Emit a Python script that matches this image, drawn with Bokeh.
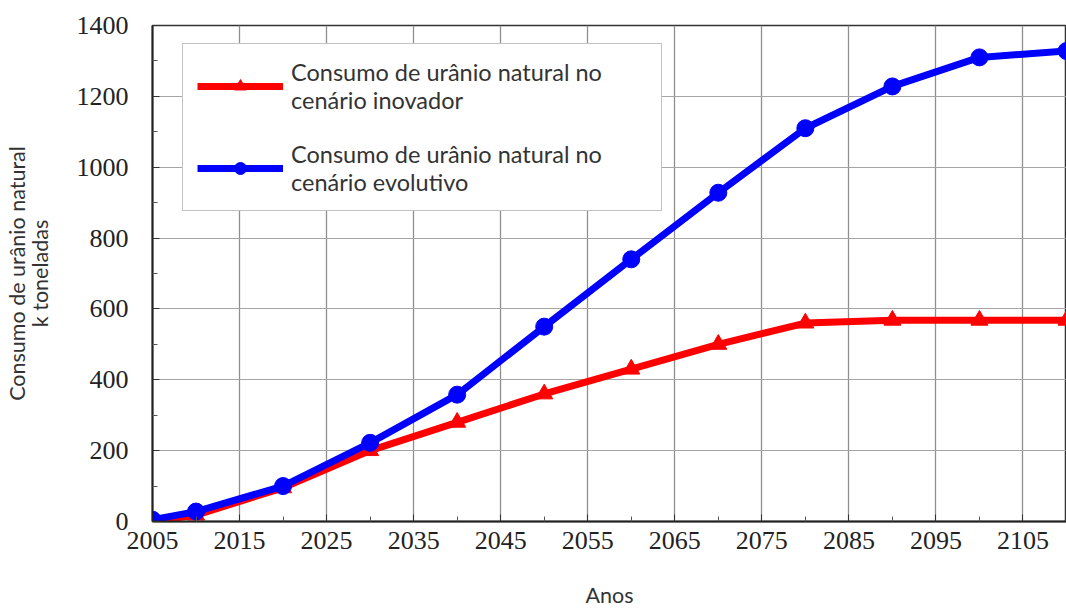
from bokeh.plotting import figure
from bokeh.models import Range1d, Legend, LegendItem, FixedTicker
from bokeh.embed import file_html
from bokeh.resources import INLINE

years = [2005, 2010, 2020, 2030, 2040, 2050, 2060, 2070, 2080, 2090, 2100, 2110]
inovador = [0, 18, 95, 200, 280, 360, 430, 500, 560, 568, 568, 568]
evolutivo = [5, 28, 100, 222, 358, 550, 740, 928, 1110, 1228, 1310, 1328]
x_ticks = [2005, 2015, 2025, 2035, 2045, 2055, 2065, 2075, 2085, 2095, 2105]
y_ticks = [0, 200, 400, 600, 800, 1000, 1200, 1400]
label_inovador = "Consumo de urânio natural no\ncenário inovador"
label_evolutivo = "Consumo de urânio natural no\ncenário evolutivo"
x_title = "Anos"
y_title = "Consumo de urânio natural\nk toneladas"

SANS = "Lato"
SERIF = "Liberation Serif"

p = figure(width=1066, height=613, output_backend="svg", toolbar_location=None,
           x_range=Range1d(2005, 2110), y_range=Range1d(0, 1400),
           min_border_left=152, min_border_top=25, min_border_right=0,
           min_border_bottom=92)

p.outline_line_color = "#333333"
p.outline_line_width = 1.5
p.background_fill_color = "white"
p.border_fill_color = "white"

p.xgrid.ticker = FixedTicker(ticks=x_ticks)
p.ygrid.ticker = FixedTicker(ticks=y_ticks)
p.xgrid.grid_line_color = "#8f8f8f"
p.ygrid.grid_line_color = "#a5a5a5"
p.xgrid.grid_line_width = 1.3
p.ygrid.grid_line_width = 1.2

p.xaxis.ticker = FixedTicker(ticks=x_ticks, minor_ticks=list(range(2010, 2111, 10)))
p.yaxis.ticker = FixedTicker(ticks=y_ticks, minor_ticks=list(range(100, 1400, 200)))

for ax in (p.xaxis[0], p.yaxis[0]):
    ax.axis_line_color = "#222222"
    ax.axis_line_width = 2
    ax.major_tick_in = 7
    ax.major_tick_out = 0
    ax.minor_tick_in = 5
    ax.minor_tick_out = 0
    ax.major_tick_line_color = "#333333"
    ax.minor_tick_line_color = "#555555"
    ax.major_label_text_font = SERIF
    ax.major_label_text_font_size = "26px"
    ax.major_label_text_color = "#222222"
    ax.axis_label_text_font = SANS
    ax.axis_label_text_font_size = "21.5px"
    ax.axis_label_text_font_style = "normal"
    ax.axis_label_text_color = "#333333"

p.xaxis.axis_label = x_title
p.xaxis.major_label_standoff = 10
p.xaxis.axis_label_standoff = 30
p.xaxis.axis_label_text_line_height = 0.75
p.yaxis.axis_label = y_title
p.yaxis.major_label_standoff = 24
p.yaxis.axis_label_standoff = 21
p.yaxis.axis_label_text_line_height = 0.85

r_line = p.line(years, inovador, line_color="#ff0000", line_width=7)
r_mark = p.scatter(years, inovador, marker="triangle", size=17,
                   fill_color="#ff0000", line_color="#ff0000")
b_line = p.line(years, evolutivo, line_color="#0000ff", line_width=7)
b_mark = p.scatter(years, evolutivo, marker="circle", size=17,
                   fill_color="#0000ff", line_color="#0000ff")

legend = Legend(items=[
    LegendItem(label=label_inovador, renderers=[r_line, r_mark]),
    LegendItem(label=label_evolutivo, renderers=[b_line, b_mark]),
], location=(30, 310))
legend.padding = 14
legend.margin = 0
legend.spacing = 26
legend.glyph_width = 86
legend.glyph_height = 30
legend.label_standoff = 8
legend.label_width = 356
legend.label_text_font = SANS
legend.label_text_font_size = "23.5px"
legend.label_text_color = "#333333"
legend.label_text_line_height = 1.2
legend.border_line_color = "#888888"
legend.border_line_width = 1.5
legend.background_fill_color = "white"
legend.background_fill_alpha = 1.0
p.add_layout(legend)

open("out.html", "w").write(file_html(p, INLINE))
